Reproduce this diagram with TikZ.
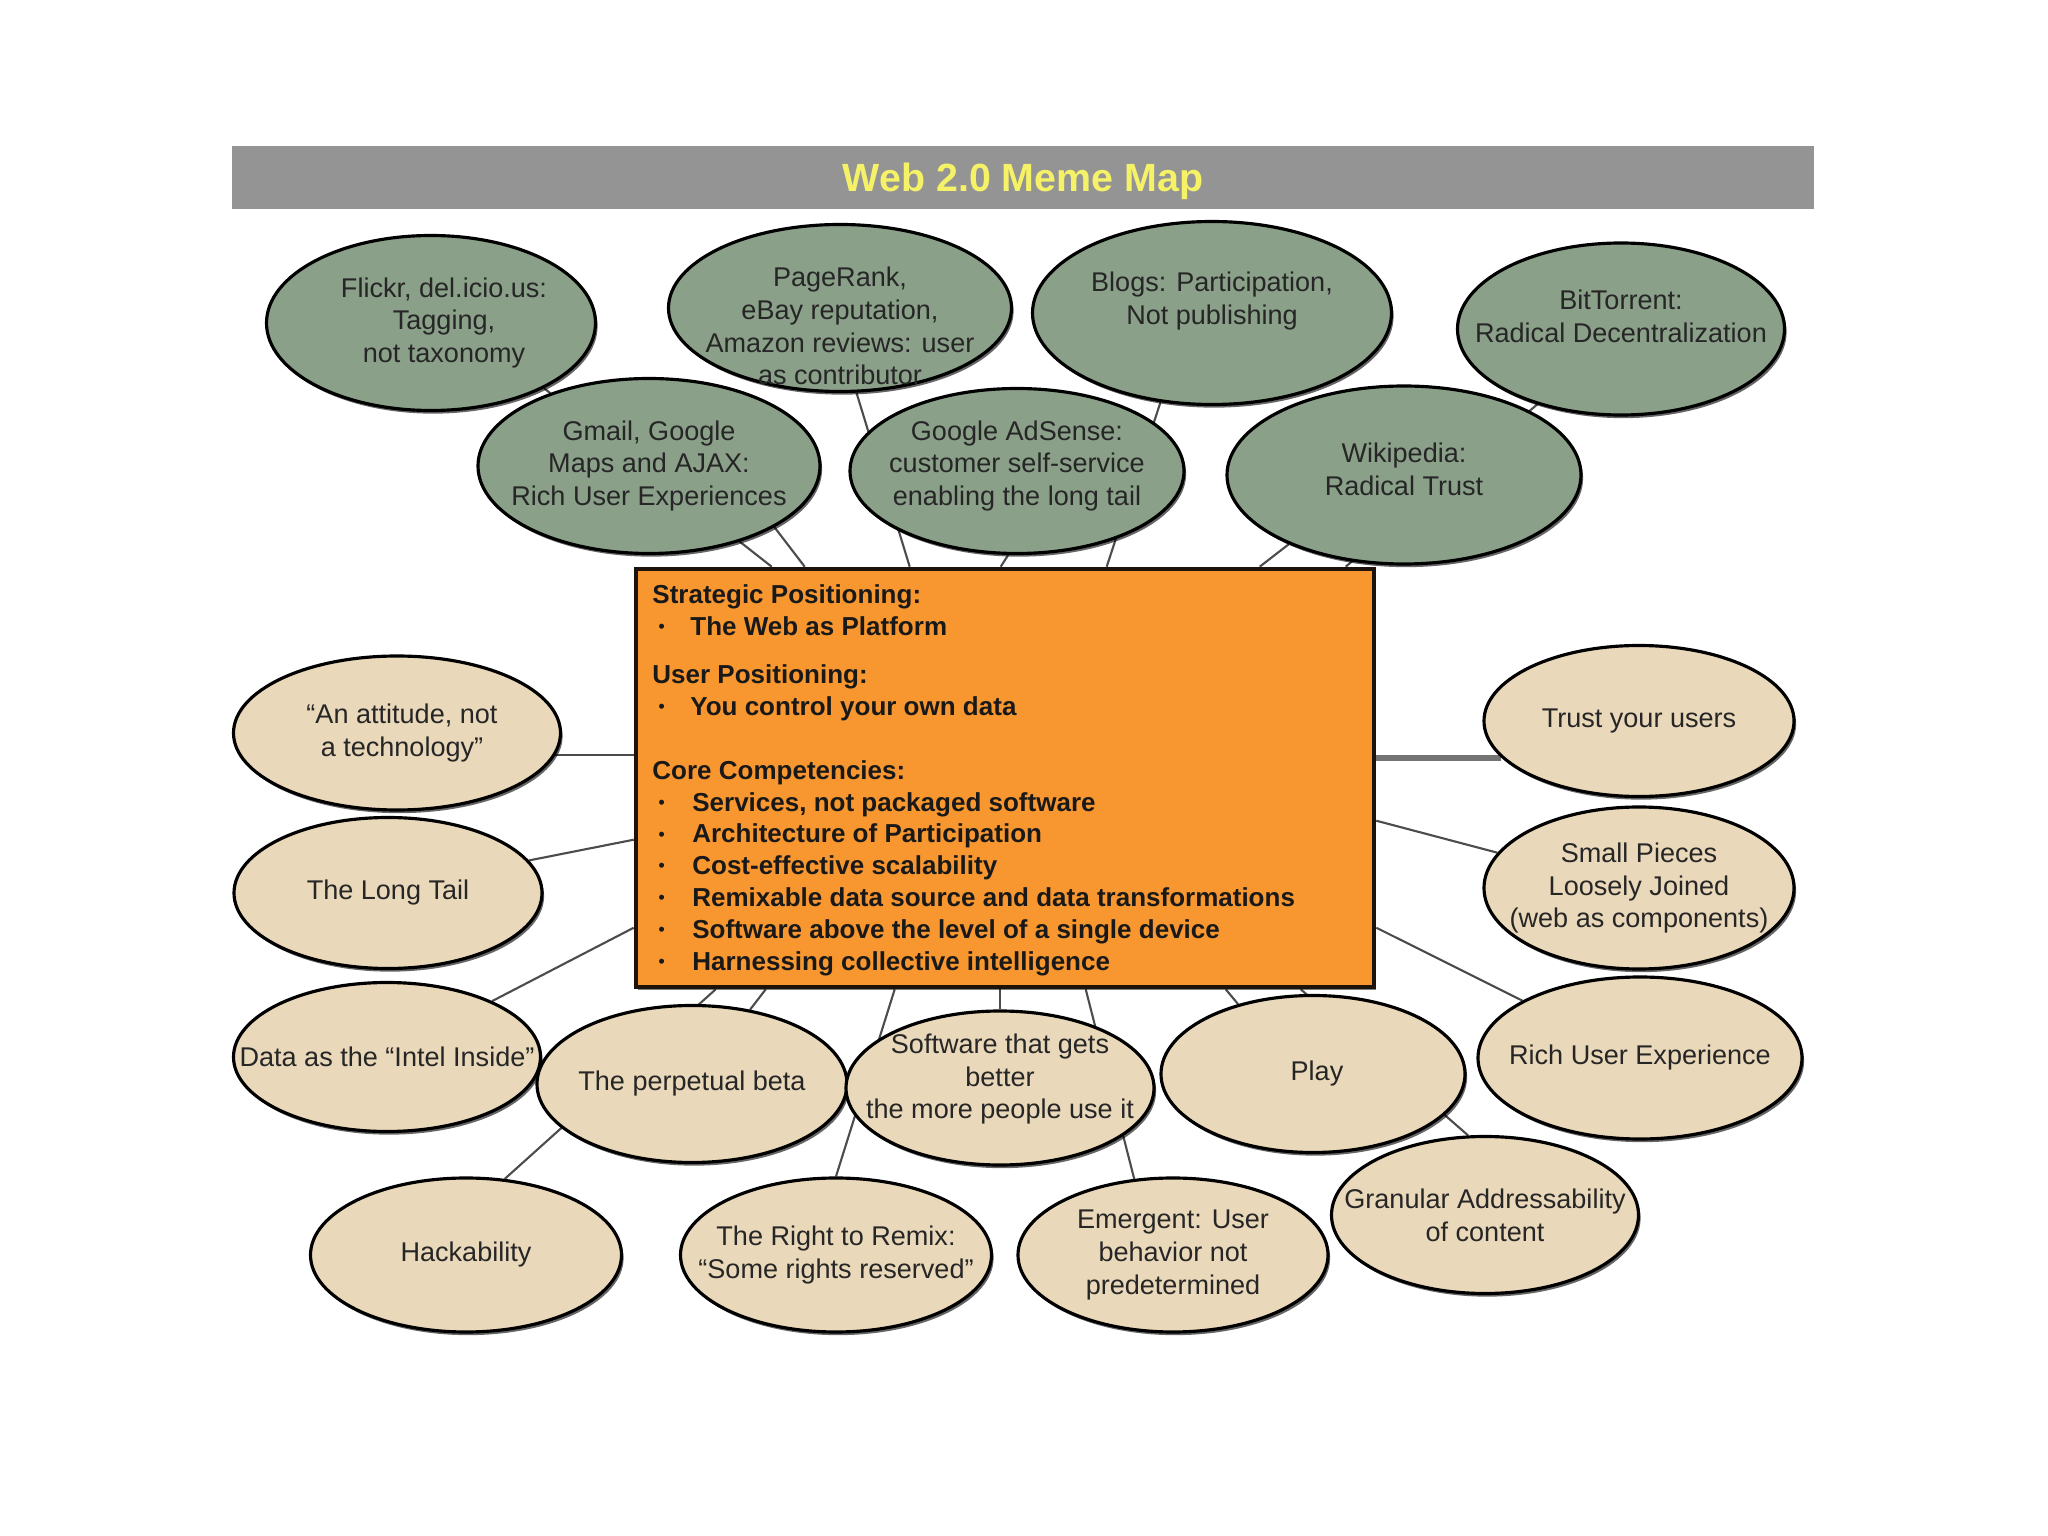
\documentclass[tikz,border=0pt]{standalone}
\usepackage{fontspec}
\setmainfont{Liberation Sans}
\usetikzlibrary{shapes.geometric, shadows, backgrounds}

\definecolor{sage}{RGB}{138,160,137}
\definecolor{sand}{RGB}{234,216,186}
\definecolor{tangerine}{RGB}{248,151,48}
\definecolor{barGray}{RGB}{148,148,148}
\definecolor{titleYellow}{RGB}{246,242,104}

\newcommand{\bul}[1][10.8pt]{\makebox[#1][l]{\hspace{1.8pt}\raisebox{0.8pt}{\fontsize{5}{5}\selectfont\textbullet}}}

\begin{document}
\begin{tikzpicture}[
  dims/.style 2 args={minimum width=#1cm, minimum height=#2cm},
  meme/.style={ellipse, draw=black, line width=0.9pt, inner sep=0pt,
               drop shadow={shadow xshift=0.6pt, shadow yshift=-0.9pt, opacity=0.6, fill=black}},
  webtwo/.style={meme, fill=sage},
  practice/.style={meme, fill=sand},
  memetext/.style={align=center, inner sep=0pt, text=black!85,
                   font=\fontsize{7.7}{9.3}\selectfont},
  titlebar/.style={rectangle, fill=barGray, inner sep=0pt, dims={15.82}{0.63}, text depth=0pt,
                   text=titleYellow, font=\fontsize{11.2}{13}\selectfont\bfseries},
  corebox/.style={rectangle, draw=black!85!brown, line width=1.3pt, fill=tangerine,
                  inner sep=0pt, dims={7.38}{4.18},
                  drop shadow={shadow xshift=0.6pt, shadow yshift=-0.9pt, opacity=0.5, fill=black}},
  coretext/.style={align=left, anchor=north west, inner sep=0pt, text=black!90,
                   font=\fontsize{7.4}{9.05}\selectfont\bfseries},
  link/.style={draw=black!70, line width=0.6pt}
]
\useasboundingbox (0,0) rectangle (20.48,-15.36);

\node (title) [titlebar] at (10.23,-1.775) {Web 2.0 Meme Map};

% top row of examples
\node (flickr)     [webtwo, dims={3.29}{1.75}] at (4.31,-3.23)  {};
\node (flickr-t)   [memetext] at ([xshift=0.13cm]flickr) {Flickr, del.icio.us:\\Tagging,\\not taxonomy};
\node (pagerank)   [webtwo, dims={3.43}{1.67}] at (8.40,-3.08)  {};
\node (pagerank-t) [memetext] at ([yshift=-0.18cm]pagerank) {PageRank,\\eBay reputation,\\Amazon reviews:  user\\as contributor};
\node (blogs)      [webtwo, dims={3.59}{1.83}] at (12.12,-3.13) {};
\node (blogs-t)    [memetext] at ([yshift=0.12cm]blogs) {Blogs:  Participation,\\Not publishing};
\node (bittorrent) [webtwo, dims={3.27}{1.72}] at (16.21,-3.29) {};
\node (bittorrent-t) [memetext] at ([yshift=0.13cm]bittorrent) {BitTorrent:\\Radical Decentralization};

% second row
\node (gmail)      [webtwo, dims={3.42}{1.75}] at (6.49,-4.66)  {};
\node (gmail-t)    [memetext] at (gmail) {Gmail, Google\\Maps and AJAX:\\Rich User Experiences};
\node (adsense)    [webtwo, dims={3.34}{1.65}] at (10.17,-4.71) {};
\node (adsense-t)  [memetext] at ([yshift=0.05cm]adsense) {Google AdSense:\\customer self-service\\enabling the long tail};
\node (wikipedia)  [webtwo, dims={3.54}{1.78}] at (14.04,-4.75) {};
\node (wikipedia-t) [memetext] at ([yshift=0.06cm]wikipedia) {Wikipedia:\\Radical Trust};

% core box
\node (core) [corebox] at (10.05,-7.78) {};
\node (core-t) [coretext] at ([xshift=0.18cm, yshift=-0.17cm]core.north west)
  {Strategic Positioning:\\
   \bul The Web as Platform\\[4.7pt]
   User Positioning:\\
   \bul You control your own data\\[9.2pt]
   Core Competencies:\\
   \bul[9.3pt] Services, not packaged software\\
   \bul[9.3pt] Architecture of Participation\\
   \bul[9.3pt] Cost-effective scalability\\
   \bul[9.3pt] Remixable data source and data transformations\\
   \bul[9.3pt] Software above the level of a single device\\
   \bul[9.3pt] Harnessing collective intelligence};

% practices
\node (attitude)   [practice, dims={3.27}{1.54}] at (3.97,-7.33)   {};
\node (attitude-t) [memetext] at ([xshift=0.05cm]attitude) {“An attitude, not\\a technology”};
\node (longtail)   [practice, dims={3.08}{1.51}] at (3.88,-8.93)   {};
\node (longtail-t) [memetext] at (longtail) {The Long Tail};
\node (data)       [practice, dims={3.07}{1.49}] at (3.87,-10.57)  {};
\node (data-t)     [memetext] at (data) {Data as the “Intel Inside”};
\node (beta)       [practice, dims={3.10}{1.57}] at (6.92,-10.84)  {};
\node (beta-t)     [memetext] at (beta) {The perpetual beta};
\node (software)   [practice, dims={3.08}{1.54}] at (10.00,-10.88) {};
\node (software-t) [memetext] at ([yshift=0.09cm]software) {Software that gets\\better\\the more people use it};
\node (play)       [practice, dims={3.04}{1.57}] at (13.13,-10.74) {};
\node (play-t)     [memetext] at ([xshift=0.04cm]play) {Play};
\node (richux)     [practice, dims={3.24}{1.62}] at (16.40,-10.58) {};
\node (richux-t)   [memetext] at (richux) {Rich User Experience};
\node (trust)      [practice, dims={3.10}{1.51}] at (16.39,-7.21)  {};
\node (trust-t)    [memetext] at (trust) {Trust your users};
\node (pieces)     [practice, dims={3.10}{1.62}] at (16.39,-8.88)  {};
\node (pieces-t)   [memetext] at (pieces) {Small Pieces\\Loosely Joined\\(web as components)};
\node (hack)       [practice, dims={3.11}{1.54}] at (4.66,-12.55)  {};
\node (hack-t)     [memetext] at (hack) {Hackability};
\node (remix)      [practice, dims={3.11}{1.54}] at (8.36,-12.55)  {};
\node (remix-t)    [memetext] at (remix) {The Right to Remix:\\“Some rights reserved”};
\node (emergent)   [practice, dims={3.10}{1.54}] at (11.73,-12.55) {};
\node (emergent-t) [memetext] at (emergent) {Emergent:  User\\behavior not\\predetermined};
\node (granular)   [practice, dims={3.07}{1.57}] at (14.85,-12.15) {};
\node (granular-t) [memetext] at (granular) {Granular Addressability\\of content};

% connectors, kept behind the shapes
\begin{scope}[on background layer]
\fill[white] (0,0) rectangle (20.48,-15.36);
\draw[link] (flickr.-30)      -- ([xshift=1.38cm]core.north west);
\draw[link] (gmail.-26)       -- ([xshift=1.71cm]core.north west);
\draw[link] (pagerank.-79)    -- ([xshift=2.76cm]core.north west);
\draw[link] (adsense.-96)     -- ([xshift=3.67cm]core.north west);
\draw[link] (blogs.-120)      -- ([xshift=4.73cm]core.north west);
\draw[link] (wikipedia.-149)  -- ([xshift=6.26cm]core.north west);
\draw[link] (bittorrent.-138) -- ([xshift=7.12cm]core.north west);
\draw[link] (attitude.-8)     -- (attitude.-8 -| core.west);
\draw[link] (longtail.13)     -- ([yshift=-2.73cm]core.north west);
\draw[link] (data.28)         -- ([yshift=-3.61cm]core.north west);
\draw[link, line width=1.6pt, draw=black!55] (trust.-165) -- (trust.-165 -| core.east);
\draw[link] (pieces.166)      -- ([yshift=-2.54cm]core.north east);
\draw[link] (richux.154)      -- ([yshift=-3.61cm]core.north east);
\draw[link] (hack.63)         -- ([xshift=0.82cm]core.south west);
\draw[link] (beta.52)         -- ([xshift=1.32cm]core.south west);
\draw[link] (remix.north)     -- ([xshift=2.61cm]core.south west);
\draw[link] (software.north)  -- (software.north |- core.south);
\draw[link] (emergent.117)    -- ([xshift=4.52cm]core.south west);
\draw[link] (play.137)        -- ([xshift=5.92cm]core.south west);
\draw[link] (granular.102)    -- ([xshift=6.67cm]core.south west);
\end{scope}
\end{tikzpicture}
\end{document}
